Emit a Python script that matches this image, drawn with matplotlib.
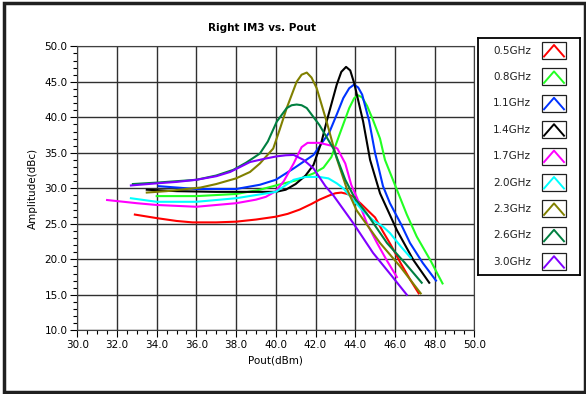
import matplotlib
matplotlib.use("Agg")
import matplotlib.pyplot as plt
from matplotlib.patches import Rectangle
from matplotlib.ticker import MultipleLocator, FormatStrFormatter

# series (Pout in dBm, IM3 in dBc)
labels = ["0.5GHz", "0.8GHz", "1.1GHz", "1.4GHz", "1.7GHz",
          "2.0GHz", "2.3GHz", "2.6GHz", "3.0GHz"]
colors = ["#ff0000", "#22ff22", "#0033ff", "#000000", "#ff00ff",
          "#00ffff", "#808000", "#007f40", "#8000ff"]

red_x = [32.9, 34.0, 35.0, 35.8, 37.0, 38.0, 39.0, 40.0, 40.6, 41.2, 41.8, 42.2, 42.7, 43.0, 43.3, 43.6, 43.9, 44.3, 44.7, 45.0, 45.4, 45.8, 46.3, 46.8, 47.2]
red_y = [26.3, 25.8, 25.4, 25.2, 25.2, 25.3, 25.6, 26.0, 26.4, 27.0, 27.8, 28.4, 29.0, 29.3, 29.4, 29.2, 28.8, 27.8, 26.7, 25.9, 23.9, 22.0, 19.4, 17.0, 15.2]

green_x = [34.0, 36.0, 38.0, 39.2, 40.0, 41.0, 41.9, 42.4, 42.8, 43.2, 43.7, 43.95, 44.15, 44.35, 44.6, 44.9, 45.25, 45.5, 46.1, 46.6, 47.1, 47.8, 48.4]
green_y = [28.9, 28.9, 29.2, 29.8, 30.4, 31.1, 32.1, 32.9, 34.4, 37.5, 41.3, 42.7, 43.1, 42.8, 41.6, 39.6, 37.0, 34.0, 29.8, 26.3, 23.2, 19.8, 16.6]

blue_x = [34.1, 36.0, 38.0, 39.2, 40.0, 40.9, 41.9, 42.7, 43.1, 43.4, 43.7, 43.94, 44.15, 44.35, 44.7, 45.0, 45.4, 45.75, 46.3, 46.76, 47.4, 48.07]
blue_y = [30.3, 29.9, 29.9, 30.5, 31.2, 32.8, 34.7, 37.9, 40.6, 42.7, 44.1, 44.6, 44.2, 43.2, 39.5, 35.0, 30.3, 27.9, 25.0, 22.3, 19.5, 17.0]

black_x = [33.5, 35.0, 37.0, 39.0, 40.0, 40.5, 41.0, 41.5, 41.9, 42.3, 42.56, 43.07, 43.3, 43.54, 43.75, 43.95, 44.4, 44.75, 45.25, 46.1, 46.93, 47.73]
black_y = [29.8, 29.6, 29.5, 29.5, 29.5, 29.8, 30.6, 31.8, 33.3, 36.5, 39.4, 44.6, 46.4, 47.1, 46.6, 44.8, 39.4, 34.0, 29.3, 24.1, 19.9, 16.7]

magenta_x = [31.5, 33.0, 34.0, 36.0, 38.0, 39.0, 39.5, 40.0, 40.4, 40.9, 41.3, 41.6, 42.2, 42.8, 43.1, 43.5, 43.8, 44.1, 44.6, 45.1, 45.6, 46.1]
magenta_y = [28.35, 27.9, 27.65, 27.4, 27.9, 28.4, 28.8, 29.6, 31.0, 33.5, 35.8, 36.4, 36.4, 36.0, 35.6, 33.5, 30.5, 28.6, 25.0, 22.3, 19.8, 17.5]

cyan_x = [32.7, 34.0, 36.0, 38.0, 40.0, 40.9, 41.5, 42.2, 42.65, 43.07, 43.4, 43.9, 44.4, 44.9, 45.4, 45.75, 46.3, 46.8]
cyan_y = [28.6, 28.1, 28.1, 28.6, 29.5, 31.2, 31.6, 31.6, 31.4, 30.7, 30.0, 28.35, 26.8, 25.5, 24.6, 23.7, 21.8, 20.2]

olive_x = [33.5, 34.5, 35.5, 36.2, 37.0, 38.0, 38.7, 39.2, 39.87, 40.2, 40.55, 41.05, 41.3, 41.56, 41.8, 42.06, 42.56, 43.07, 43.57, 44.07, 45.25, 46.26, 47.3]
olive_y = [29.4, 29.6, 29.9, 30.1, 30.6, 31.4, 32.3, 33.5, 35.6, 38.3, 41.3, 45.0, 46.0, 46.3, 45.6, 44.1, 39.4, 34.2, 30.0, 26.9, 22.3, 19.0, 15.2]

teal_x = [32.8, 34.0, 35.0, 36.0, 37.0, 37.86, 38.5, 39.2, 39.6, 40.05, 40.55, 40.8, 41.05, 41.3, 41.56, 42.2, 42.9, 43.5, 44.0, 44.57, 45.6, 46.5, 47.35]
teal_y = [30.6, 30.8, 31.0, 31.2, 31.8, 32.6, 33.6, 34.9, 36.6, 39.4, 41.3, 41.7, 41.8, 41.7, 41.3, 38.9, 35.6, 31.2, 28.5, 26.5, 22.3, 19.5, 16.7]

purple_x = [32.7, 34.0, 35.0, 36.0, 37.0, 37.7, 38.7, 39.5, 40.05, 40.5, 40.9, 41.4, 41.9, 42.5, 42.9, 43.9, 44.9, 45.8, 46.6]
purple_y = [30.4, 30.7, 30.9, 31.2, 31.7, 32.3, 33.7, 34.2, 34.5, 34.65, 34.7, 34.0, 32.8, 30.3, 29.0, 25.1, 20.9, 17.8, 15.0]

series = [(red_x, red_y), (green_x, green_y), (blue_x, blue_y), (black_x, black_y),
          (magenta_x, magenta_y), (cyan_x, cyan_y), (olive_x, olive_y),
          (teal_x, teal_y), (purple_x, purple_y)]

W, H = 586, 394
fig = plt.figure(figsize=(W / 100, H / 100), dpi=100)
fig.patch.set_facecolor("white")

ax = fig.add_axes([77.3 / W, 1 - 330.3 / H, 397 / W, 284 / H])
for (xs, ys), c in zip(series, colors):
    ax.plot(xs, ys, color=c, lw=1.5, solid_joinstyle="round")

ax.set_xlim(30, 50)
ax.set_ylim(10, 50)
ax.xaxis.set_major_locator(MultipleLocator(2))
ax.xaxis.set_minor_locator(MultipleLocator(0.5))
ax.yaxis.set_major_locator(MultipleLocator(5))
ax.yaxis.set_minor_locator(MultipleLocator(1))
ax.xaxis.set_major_formatter(FormatStrFormatter("%.1f"))
ax.yaxis.set_major_formatter(FormatStrFormatter("%.1f"))
ax.tick_params(which="major", length=5, width=0.8, labelsize=7.5, pad=2)
ax.tick_params(which="minor", length=3, width=0.8)
ax.grid(True, which="major", color="#303030", lw=1.0)
ax.set_axisbelow(True)
for s in ax.spines.values():
    s.set_color("#404040")

ax.set_xlabel("Pout(dBm)", fontsize=7.5, labelpad=4)
ax.set_ylabel("Amplitude(dBc)", fontsize=7.5, labelpad=5)
fig.text(262 / W, 1 - 28 / H, "Right IM3 vs. Pout", ha="center", va="center",
         fontsize=7.5, fontweight="bold")

# legend box drawn by hand, like the LabVIEW plot legend
lg = fig.add_axes([478 / W, 1 - 275 / H, 102 / W, 237 / H])
lg.set_xlim(0, 102)
lg.set_ylim(237, 0)
lg.set_xticks([])
lg.set_yticks([])
for s in lg.spines.values():
    s.set_linewidth(1.3)
for i, (lab, c) in enumerate(zip(labels, colors)):
    cy = 12.5 + i * 26.4
    lg.text(15, cy, lab, ha="left", va="center", fontsize=7.5, color="#202020")
    lg.add_patch(Rectangle((64, cy - 8.5), 24, 17, fill=False, ec="#202020", lw=0.9))
    lg.plot([66, 76, 86], [cy + 6, cy - 5.5, cy + 6], color=c, lw=1.4)

# outer frame
fig.add_artist(Rectangle((3.5 / W, 2 / H), (W - 5) / W, (H - 5) / H,
                         transform=fig.transFigure, fill=False, ec="#202020", lw=2.5))

fig.savefig("out.png", dpi=100)
